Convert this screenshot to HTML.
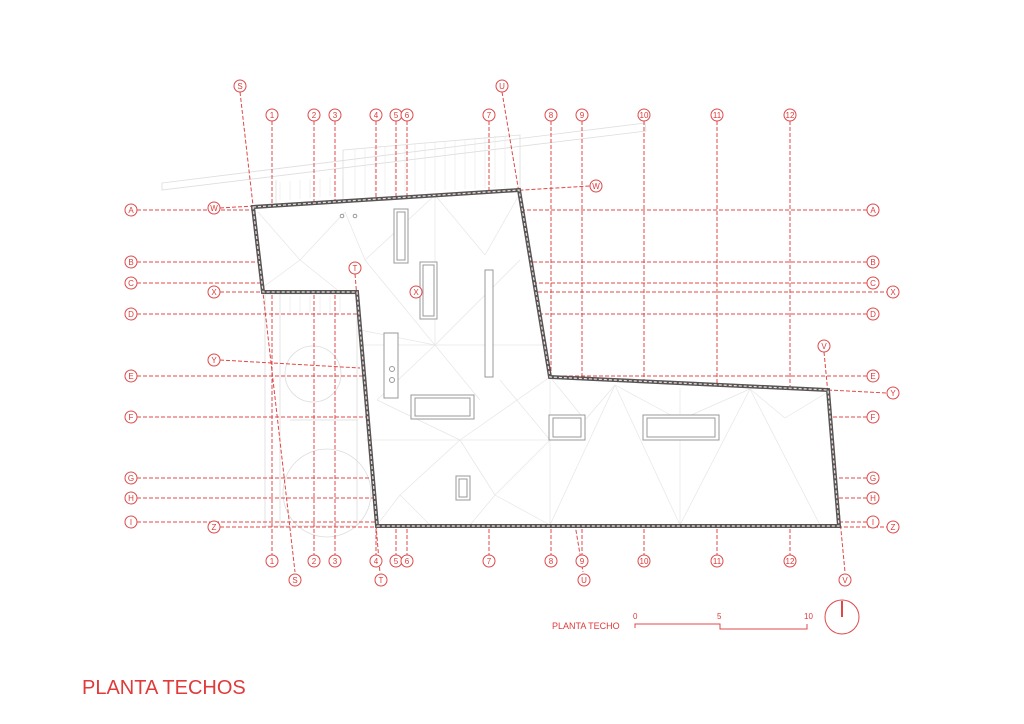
<!DOCTYPE html>
<html><head><meta charset="utf-8"><style>
body{margin:0;background:#fff;}
svg{display:block;}
text{font-family:"Liberation Sans",sans-serif;fill:#e03a3a;}
.g{stroke:#e04848;stroke-width:1;stroke-dasharray:4 2;fill:none;}
.c{fill:#fff;stroke:#e04848;stroke-width:1;}
.l{stroke:#ddd;stroke-width:0.8;fill:none;}
.k{stroke:#999;stroke-width:1;fill:#fff;}
</style></head><body>
<svg width="1024" height="724" viewBox="0 0 1024 724" xmlns="http://www.w3.org/2000/svg">
<!-- faint surroundings -->
<g class="l">
<polygon points="162,183 645,123 646,131 162,190"/>
<polygon points="343,150 520,135 520,190 343,200"/>
<line x1="276" y1="180" x2="276" y2="205"/><line x1="343" y1="178" x2="343" y2="198"/>
<rect x="265" y="294" width="92" height="232"/>
<circle cx="313" cy="374" r="28"/><circle cx="327" cy="493" r="44"/>
<line x1="280" y1="294" x2="280" y2="526"/><line x1="290" y1="420" x2="357" y2="420"/>
</g>
<g stroke="#e6e6e6" stroke-width="0.6">
<line x1="280" y1="182" x2="280" y2="200"/><line x1="290" y1="181" x2="290" y2="200"/><line x1="300" y1="180" x2="300" y2="199"/><line x1="310" y1="179" x2="310" y2="198"/><line x1="320" y1="178" x2="320" y2="197"/><line x1="330" y1="177" x2="330" y2="196"/>
<line x1="355" y1="150" x2="355" y2="197"/><line x1="365" y1="149" x2="365" y2="196"/><line x1="375" y1="148" x2="375" y2="195"/><line x1="385" y1="147" x2="385" y2="194"/><line x1="395" y1="146" x2="395" y2="193"/><line x1="405" y1="145" x2="405" y2="193"/><line x1="415" y1="144" x2="415" y2="192"/><line x1="425" y1="143" x2="425" y2="191"/><line x1="435" y1="142" x2="435" y2="191"/><line x1="445" y1="141" x2="445" y2="190"/><line x1="455" y1="140" x2="455" y2="190"/><line x1="465" y1="139" x2="465" y2="189"/><line x1="475" y1="138" x2="475" y2="189"/><line x1="485" y1="137" x2="485" y2="188"/><line x1="495" y1="136" x2="495" y2="188"/><line x1="505" y1="136" x2="505" y2="188"/>
<line x1="290" y1="296" x2="290" y2="312"/><line x1="300" y1="296" x2="300" y2="312"/><line x1="310" y1="296" x2="310" y2="312"/><line x1="320" y1="296" x2="320" y2="312"/><line x1="330" y1="296" x2="330" y2="312"/><line x1="340" y1="296" x2="340" y2="312"/>
</g>
<!-- grid verticals -->
<g class="g">
<line x1="272" y1="121" x2="272" y2="555"/><line x1="314" y1="121" x2="314" y2="555"/><line x1="335" y1="121" x2="335" y2="555"/><line x1="376" y1="121" x2="376" y2="555"/><line x1="396" y1="121" x2="396" y2="555"/><line x1="407" y1="121" x2="407" y2="555"/><line x1="489" y1="121" x2="489" y2="555"/><line x1="551" y1="121" x2="551" y2="555"/><line x1="582" y1="121" x2="582" y2="555"/><line x1="644" y1="121" x2="644" y2="555"/><line x1="717" y1="121" x2="717" y2="555"/><line x1="790" y1="121" x2="790" y2="555"/>
<line x1="137" y1="210" x2="867" y2="210"/><line x1="137" y1="262" x2="867" y2="262"/><line x1="137" y1="283" x2="867" y2="283"/><line x1="137" y1="314" x2="867" y2="314"/><line x1="137" y1="376" x2="867" y2="376"/><line x1="137" y1="417" x2="867" y2="417"/><line x1="137" y1="478" x2="867" y2="478"/><line x1="137" y1="498" x2="867" y2="498"/><line x1="137" y1="522" x2="867" y2="522"/>
<line x1="240" y1="92" x2="295" y2="572"/><line x1="502" y1="92" x2="583" y2="572"/><line x1="824" y1="352" x2="845" y2="572"/>
<line x1="220" y1="208" x2="590" y2="186"/>
<line x1="220" y1="292" x2="887" y2="292"/>
<line x1="220" y1="360" x2="360" y2="368"/><line x1="828" y1="390" x2="887" y2="393"/>
<line x1="220" y1="527" x2="887" y2="527"/>
</g>
<!-- building -->
<polygon points="253,207 519,190 550,377 828,390 839,526 377,526 357,292 263,292" fill="#fff" stroke="none"/>
<g class="g"><line x1="355" y1="274" x2="380" y2="573"/></g>
<polygon points="253,207 519,190 550,377 828,390 839,526 377,526 357,292 263,292" fill="#fff" stroke="none" opacity="0"/>
<!-- interior lines -->
<g stroke="#e6e6e6" stroke-width="0.7" fill="none">
<line x1="258" y1="212" x2="300" y2="260"/><line x1="300" y1="260" x2="262" y2="288"/><line x1="300" y1="260" x2="345" y2="212"/><line x1="300" y1="260" x2="340" y2="292"/>
<line x1="345" y1="212" x2="365" y2="260"/><line x1="365" y1="260" x2="435" y2="195"/><line x1="435" y1="195" x2="485" y2="255"/><line x1="485" y1="255" x2="519" y2="195"/>
<line x1="365" y1="260" x2="480" y2="400"/><line x1="435" y1="195" x2="435" y2="345"/><line x1="360" y1="345" x2="545" y2="345"/>
<line x1="360" y1="330" x2="435" y2="345"/><line x1="435" y1="345" x2="377" y2="400"/><line x1="435" y1="345" x2="520" y2="260"/>
<line x1="365" y1="440" x2="550" y2="440"/><line x1="377" y1="400" x2="460" y2="440"/><line x1="460" y1="440" x2="550" y2="377"/>
<line x1="460" y1="440" x2="400" y2="495"/><line x1="460" y1="440" x2="495" y2="495"/><line x1="400" y1="495" x2="377" y2="525"/><line x1="400" y1="495" x2="430" y2="525"/><line x1="495" y1="495" x2="550" y2="440"/><line x1="495" y1="495" x2="470" y2="525"/><line x1="495" y1="495" x2="550" y2="525"/>
<line x1="550" y1="377" x2="550" y2="525"/><line x1="550" y1="440" x2="500" y2="380"/>
<line x1="550" y1="525" x2="615" y2="385"/><line x1="615" y1="385" x2="680" y2="525"/><line x1="680" y1="525" x2="750" y2="389"/><line x1="750" y1="389" x2="820" y2="525"/>
<line x1="615" y1="385" x2="680" y2="420"/><line x1="680" y1="420" x2="750" y2="389"/><line x1="750" y1="389" x2="785" y2="418"/><line x1="785" y1="418" x2="828" y2="392"/><line x1="550" y1="377" x2="585" y2="420"/><line x1="585" y1="420" x2="615" y2="385"/>
<line x1="680" y1="388" x2="680" y2="525"/>
</g>
<!-- skylights -->
<g class="k">
<rect x="394" y="209" width="14" height="54"/><rect x="397" y="212" width="8" height="48" fill="none"/>
<rect x="420" y="262" width="17" height="57"/><rect x="423" y="265" width="11" height="51" fill="none"/>
<rect x="485" y="270" width="8" height="107"/>
<rect x="384" y="333" width="14" height="65"/><circle cx="392" cy="369" r="2.5"/><circle cx="392" cy="380" r="2.5"/>
<rect x="411" y="395" width="63" height="24"/><rect x="415" y="398" width="55" height="18" fill="none"/>
<rect x="549" y="415" width="36" height="25"/><rect x="553" y="418" width="28" height="19" fill="none"/>
<rect x="643" y="415" width="76" height="25"/><rect x="647" y="418" width="68" height="19" fill="none"/>
<rect x="456" y="476" width="14" height="24"/><rect x="459" y="479" width="8" height="18" fill="none"/>
<circle cx="342" cy="216" r="1.8"/><circle cx="355" cy="216" r="1.8"/>
</g>
<!-- outline -->
<polygon points="253,207 519,190 550,377 828,390 839,526 377,526 357,292 263,292" fill="none" stroke="#555" stroke-width="4"/>
<polygon points="253,207 519,190 550,377 828,390 839,526 377,526 357,292 263,292" fill="none" stroke="#f4dcdc" stroke-width="1.2" stroke-dasharray="3 2"/>
<!-- labels -->
<g font-size="8" text-anchor="middle">
<g id="tops">
<circle class="c" cx="240" cy="86" r="6"/><text x="240" y="89">S</text>
<circle class="c" cx="502" cy="86" r="6"/><text x="502" y="89">U</text>
<circle class="c" cx="272" cy="115" r="6"/><text x="272" y="118">1</text>
<circle class="c" cx="314" cy="115" r="6"/><text x="314" y="118">2</text>
<circle class="c" cx="335" cy="115" r="6"/><text x="335" y="118">3</text>
<circle class="c" cx="376" cy="115" r="6"/><text x="376" y="118">4</text>
<circle class="c" cx="396" cy="115" r="6"/><text x="396" y="118">5</text>
<circle class="c" cx="407" cy="115" r="6"/><text x="407" y="118">6</text>
<circle class="c" cx="489" cy="115" r="6"/><text x="489" y="118">7</text>
<circle class="c" cx="551" cy="115" r="6"/><text x="551" y="118">8</text>
<circle class="c" cx="582" cy="115" r="6"/><text x="582" y="118">9</text>
<circle class="c" cx="644" cy="115" r="6"/><text x="644" y="118">10</text>
<circle class="c" cx="717" cy="115" r="6"/><text x="717" y="118">11</text>
<circle class="c" cx="790" cy="115" r="6"/><text x="790" y="118">12</text>
</g>
<circle class="c" cx="272" cy="561" r="6"/><text x="272" y="564">1</text>
<circle class="c" cx="314" cy="561" r="6"/><text x="314" y="564">2</text>
<circle class="c" cx="335" cy="561" r="6"/><text x="335" y="564">3</text>
<circle class="c" cx="376" cy="561" r="6"/><text x="376" y="564">4</text>
<circle class="c" cx="396" cy="561" r="6"/><text x="396" y="564">5</text>
<circle class="c" cx="407" cy="561" r="6"/><text x="407" y="564">6</text>
<circle class="c" cx="489" cy="561" r="6"/><text x="489" y="564">7</text>
<circle class="c" cx="551" cy="561" r="6"/><text x="551" y="564">8</text>
<circle class="c" cx="582" cy="561" r="6"/><text x="582" y="564">9</text>
<circle class="c" cx="644" cy="561" r="6"/><text x="644" y="564">10</text>
<circle class="c" cx="717" cy="561" r="6"/><text x="717" y="564">11</text>
<circle class="c" cx="790" cy="561" r="6"/><text x="790" y="564">12</text>
<circle class="c" cx="295" cy="580" r="6"/><text x="295" y="583">S</text>
<circle class="c" cx="381" cy="580" r="6"/><text x="381" y="583">T</text>
<circle class="c" cx="584" cy="580" r="6"/><text x="584" y="583">U</text>
<circle class="c" cx="845" cy="580" r="6"/><text x="845" y="583">V</text>
<circle class="c" cx="824" cy="346" r="6"/><text x="824" y="349">V</text>
<circle class="c" cx="355" cy="268" r="6"/><text x="355" y="271">T</text>
<circle class="c" cx="131" cy="210" r="6"/><text x="131" y="213">A</text>
<circle class="c" cx="131" cy="262" r="6"/><text x="131" y="265">B</text>
<circle class="c" cx="131" cy="283" r="6"/><text x="131" y="286">C</text>
<circle class="c" cx="131" cy="314" r="6"/><text x="131" y="317">D</text>
<circle class="c" cx="131" cy="376" r="6"/><text x="131" y="379">E</text>
<circle class="c" cx="131" cy="417" r="6"/><text x="131" y="420">F</text>
<circle class="c" cx="131" cy="478" r="6"/><text x="131" y="481">G</text>
<circle class="c" cx="131" cy="498" r="6"/><text x="131" y="501">H</text>
<circle class="c" cx="131" cy="522" r="6"/><text x="131" y="525">I</text>
<circle class="c" cx="873" cy="210" r="6"/><text x="873" y="213">A</text>
<circle class="c" cx="873" cy="262" r="6"/><text x="873" y="265">B</text>
<circle class="c" cx="873" cy="283" r="6"/><text x="873" y="286">C</text>
<circle class="c" cx="873" cy="314" r="6"/><text x="873" y="317">D</text>
<circle class="c" cx="873" cy="376" r="6"/><text x="873" y="379">E</text>
<circle class="c" cx="873" cy="417" r="6"/><text x="873" y="420">F</text>
<circle class="c" cx="873" cy="478" r="6"/><text x="873" y="481">G</text>
<circle class="c" cx="873" cy="498" r="6"/><text x="873" y="501">H</text>
<circle class="c" cx="873" cy="522" r="6"/><text x="873" y="525">I</text>
<circle class="c" cx="214" cy="208" r="6"/><text x="214" y="211">W</text>
<circle class="c" cx="596" cy="186" r="6"/><text x="596" y="189">W</text>
<circle class="c" cx="214" cy="292" r="6"/><text x="214" y="295">X</text>
<circle class="c" cx="416" cy="292" r="6"/><text x="416" y="295">X</text>
<circle class="c" cx="893" cy="292" r="6"/><text x="893" y="295">X</text>
<circle class="c" cx="214" cy="360" r="6"/><text x="214" y="363">Y</text>
<circle class="c" cx="893" cy="393" r="6"/><text x="893" y="396">Y</text>
<circle class="c" cx="214" cy="527" r="6"/><text x="214" y="530">Z</text>
<circle class="c" cx="893" cy="527" r="6"/><text x="893" y="530">Z</text>
</g>
<!-- scale -->
<text x="552" y="629" font-size="9">PLANTA TECHO</text>
<g font-size="8"><text x="633" y="619">0</text><text x="717" y="619">5</text><text x="804" y="619">10</text></g>
<polyline points="635,628 635,624 720,624 720,629 807,629 807,624" fill="none" stroke="#e04848" stroke-width="1"/>
<circle cx="842" cy="617" r="17" fill="none" stroke="#e04848" stroke-width="1"/>
<line x1="842" y1="601" x2="842" y2="617" stroke="#e04848" stroke-width="2"/>
<text x="82" y="694" font-size="20">PLANTA TECHOS</text>
</svg>
</body></html>
